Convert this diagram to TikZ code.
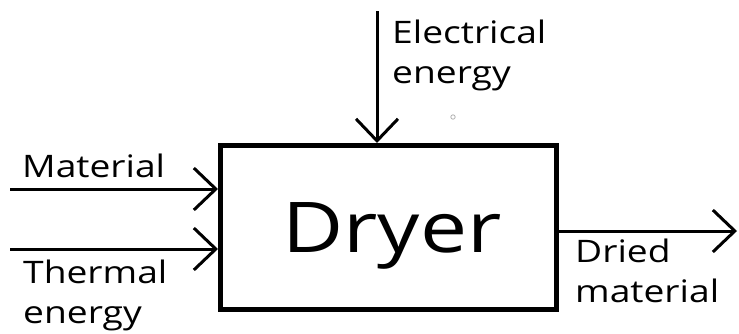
\documentclass[tikz,border=0pt]{standalone}
\usepackage{fontspec}
\setmainfont[FakeStretch=1.2]{Open Sans}
\usetikzlibrary{arrows.meta}
\begin{document}
\begin{tikzpicture}[x=1pt,y=-1pt,
  lbl/.style={anchor=base west, inner sep=0pt, align=left, font=\fontsize{31}{40}\selectfont},
  flow/.style={line width=3pt, -{Straight Barb[length=22pt,width=42pt]}},
  box/.style={draw, line width=5pt, minimum width=336pt, minimum height=164pt, inner sep=0pt}]
\useasboundingbox (0,0) rectangle (739,333);
\node[box] (dryer) at (388.5,227.5) {};
\node[anchor=base west, inner sep=0pt, font=\fontsize{70}{80}\selectfont] (dryerlbl) at (282,252) {Dryer};
% inputs / outputs
\coordinate (mat0) at (10,189);
\coordinate (th0) at (10,249);
\coordinate (el0) at (377,11);
\coordinate (out1) at (737,231);
\draw[flow] (mat0) -- (dryer.west |- mat0);
\draw[flow] (th0) -- (dryer.west |- th0);
\draw[flow] (el0) -- (dryer.north -| el0);
\draw[flow] (dryer.east |- out1) -- (out1);
% labels (base anchor = baseline of the last line)
\node[lbl] (matlbl) at (22,177) {Material};
\node[lbl] (thlbl) at (23,323) {Thermal\\energy};
\node[lbl] (ellbl) at (392,83) {Electrical\\energy};
\node[lbl] (outlbl) at (575,302) {Dried\\material};
% small mark
\draw[gray!60, line width=0.8pt] (453,117) circle (2.2pt);
\end{tikzpicture}
\end{document}
